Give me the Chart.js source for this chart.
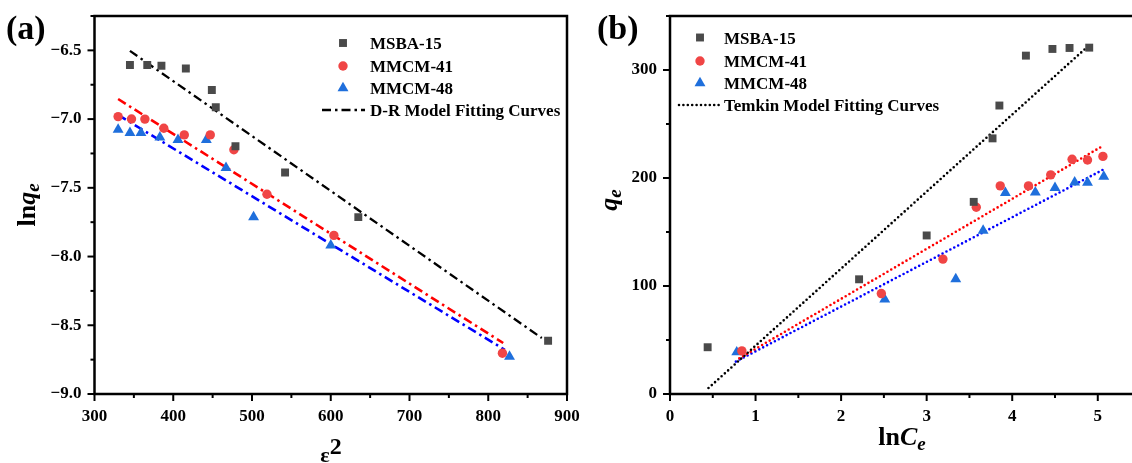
<!DOCTYPE html>
<html>
<head>
<meta charset="utf-8">
<script src="https://cdn.jsdelivr.net/npm/chart.js@4.4.1/dist/chart.umd.min.js"></script>
<style>
  body { margin: 0; background: #fff; }
  #wrap { position: relative; width: 1132px; height: 463px; overflow: hidden; }
  canvas { position: absolute; top: 0; }
</style>
</head>
<body>
<div id="wrap">
  <canvas id="chartA" width="590" height="463" style="left:0"></canvas>
  <canvas id="chartB" width="542" height="463" style="left:590px"></canvas>
</div>
<script>
// ---- (a) D-R model: epsilon^2 vs ln qe ----
const seriesNames = ["MSBA-15", "MMCM-41", "MMCM-48"];

const drX_MSBA = [345, 367, 385, 416, 449, 454, 479, 542, 635, 876];
const drY_MSBA = [-6.607, -6.607, -6.612, -6.632, -6.788, -6.914, -7.197, -7.388, -7.713, -8.612];
const drX_M41 = [330, 347, 364, 388, 414, 447, 477, 519, 604, 818];
const drY_M41 = [-6.982, -6.999, -7.0, -7.067, -7.115, -7.115, -7.223, -7.547, -7.846, -8.703];
const drX_M48 = [330, 345, 359, 383, 406, 442, 467, 502, 600, 827];
const drY_M48 = [-7.076, -7.1, -7.1, -7.132, -7.151, -7.151, -7.354, -7.713, -7.918, -8.728];

// fitted lines (end points)
const drFitX_MSBA = [345, 868];
const drFitY_MSBA = [-6.504, -8.593];
const drFitX_M41 = [330, 819];
const drFitY_M41 = [-6.854, -8.629];
const drFitX_M48 = [330, 821];
const drFitY_M48 = [-6.97, -8.678];

// ---- (b) Temkin model: ln Ce vs qe ----
const tkX_MSBA = [0.44, 2.21, 3.0, 3.55, 3.77, 3.85, 4.16, 4.47, 4.67, 4.90];
const tkY_MSBA = [43.3, 106.2, 146.8, 177.9, 236.7, 267.1, 313.3, 319.5, 320.4, 320.7];
const tkX_M41 = [0.84, 2.47, 3.19, 3.58, 3.86, 4.19, 4.45, 4.70, 4.88, 5.06];
const tkY_M41 = [39.9, 93, 124.9, 172.9, 192.7, 192.7, 202.9, 217.3, 216.7, 220];
const tkX_M48 = [0.78, 2.51, 3.34, 3.66, 3.92, 4.27, 4.50, 4.73, 4.88, 5.07];
const tkY_M48 = [38.7, 87.7, 106.5, 151.4, 186.2, 186.8, 190.9, 196, 195.8, 201.3];

const tkFitX_MSBA = [0.45, 4.92];
const tkFitY_MSBA = [5.5, 324.4];
const tkFitX_M41 = [0.81, 5.03];
const tkFitY_M41 = [33, 228.4];
const tkFitX_M48 = [0.77, 5.08];
const tkFitY_M48 = [30, 208.4];

const FONT = '"Liberation Serif", "Times New Roman", serif';
const markerColors = ['#4a4a4a', '#f04545', '#1f6fdc'];
const markerStyles = ['rect', 'circle', 'triangle'];
const markerRadius = [5.6, 4.7, 6.3];

function pts(xs, ys) {
  return xs.map((x, i) => ({ x: x, y: ys[i] }));
}

function markerSet(i, xs, ys) {
  return {
    label: seriesNames[i],
    data: pts(xs, ys),
    showLine: false,
    pointStyle: markerStyles[i],
    pointRadius: markerRadius[i],
    pointBackgroundColor: markerColors[i],
    pointBorderWidth: 0,
    borderWidth: 0
  };
}

function fitSet(xs, ys, color, dash, width, cap) {
  return {
    data: pts(xs, ys),
    showLine: true,
    pointRadius: 0,
    borderColor: color,
    borderWidth: width,
    borderDash: dash,
    borderCapStyle: cap || 'butt',
    fill: false
  };
}

function drawMarker(ctx, style, r, x, y, color) {
  ctx.fillStyle = color;
  ctx.beginPath();
  if (style === 'rect') {
    const s = r * Math.SQRT1_2;
    ctx.rect(x - s, y - s, 2 * s, 2 * s);
  } else if (style === 'circle') {
    ctx.arc(x, y, r, 0, Math.PI * 2);
  } else {
    let a = 0;
    ctx.moveTo(x + Math.sin(a) * r, y - Math.cos(a) * r);
    a += Math.PI * 2 / 3;
    ctx.lineTo(x + Math.sin(a) * r, y - Math.cos(a) * r);
    a += Math.PI * 2 / 3;
    ctx.lineTo(x + Math.sin(a) * r, y - Math.cos(a) * r);
    ctx.closePath();
  }
  ctx.fill();
}

function drawRuns(ctx, runs, cx, baseY) {
  let w = 0;
  runs.forEach(r => { ctx.font = r.font; r.w = ctx.measureText(r.text).width; w += r.w; });
  let x = cx - w / 2;
  runs.forEach(r => {
    ctx.font = r.font;
    ctx.fillText(r.text, x, baseY + (r.dy || 0));
    x += r.w;
  });
}

// ticks, frame, legend, titles
const deco = {
  id: 'deco',
  afterDraw(chart, args, o) {
    const ctx = chart.ctx;
    const a = chart.chartArea;
    const sx = chart.scales.x, sy = chart.scales.y;
    ctx.save();
    ctx.strokeStyle = '#000';
    ctx.fillStyle = '#000';

    // tick marks, outward
    ctx.lineWidth = 2;
    sx.ticks.forEach(t => {
      const p = sx.getPixelForValue(t.value);
      const len = t.label !== '' ? 7 : 4;
      ctx.beginPath(); ctx.moveTo(p, a.bottom); ctx.lineTo(p, a.bottom + len); ctx.stroke();
    });
    sy.ticks.forEach(t => {
      const p = sy.getPixelForValue(t.value);
      const len = t.label !== '' ? 7 : 4;
      ctx.beginPath(); ctx.moveTo(a.left, p); ctx.lineTo(a.left - len, p); ctx.stroke();
    });

    // frame
    ctx.lineWidth = 2.5;
    ctx.beginPath();
    if (o.fullBox) {
      ctx.rect(a.left, a.top, a.right - a.left, a.bottom - a.top);
    } else {
      ctx.moveTo(chart.width + 2, a.top);
      ctx.lineTo(a.left, a.top);
      ctx.lineTo(a.left, a.bottom);
      ctx.lineTo(chart.width + 2, a.bottom);
    }
    ctx.stroke();

    // legend
    const L = o.legend;
    ctx.font = 'bold 17px ' + FONT;
    ctx.textBaseline = 'alphabetic';
    ctx.textAlign = 'left';
    for (let i = 0; i < 3; i++) {
      const ds = chart.data.datasets[i];
      drawMarker(ctx, ds.pointStyle, ds.pointRadius, L.markerX, L.rows[i], ds.pointBackgroundColor);
      ctx.fillStyle = '#000';
      ctx.fillText(ds.label, L.textX, L.rows[i] + 6);
    }
    const fit = chart.data.datasets[3];
    ctx.save();
    ctx.strokeStyle = fit.borderColor;
    ctx.lineWidth = fit.borderWidth;
    ctx.setLineDash(fit.borderDash);
    ctx.lineCap = fit.borderCapStyle;
    ctx.beginPath();
    ctx.moveTo(L.lineX0, L.rows[3]);
    ctx.lineTo(L.lineX1, L.rows[3]);
    ctx.stroke();
    ctx.restore();
    ctx.fillStyle = '#000';
    ctx.font = 'bold 17px ' + FONT;
    ctx.fillText(o.fitLabel, L.textX, L.rows[3] + 6);

    // panel letter
    ctx.font = 'bold 34px ' + FONT;
    ctx.fillText(o.panel, o.panelX, 39);

    // axis titles
    ctx.textAlign = 'left';
    drawRuns(ctx, o.xTitle, o.xTitlePos[0], o.xTitlePos[1]);
    ctx.save();
    ctx.translate(o.yTitlePos[0], o.yTitlePos[1]);
    ctx.rotate(-Math.PI / 2);
    drawRuns(ctx, o.yTitle, 0, 0);
    ctx.restore();

    ctx.restore();
  }
};

const tickFont = { family: FONT, size: 17, weight: 'bold' };

// pin the plot area: fixed axis sizes, no extra label overhang padding
function fixWidth(w) {
  return function (s) { s.width = w; s.paddingTop = 0; s.paddingBottom = 0; };
}
function fixHeight(h) {
  return function (s) { s.height = h; s.paddingLeft = 0; s.paddingRight = 0; };
}

new Chart(document.getElementById('chartA'), {
  type: 'scatter',
  data: {
    datasets: [
      markerSet(0, drX_MSBA, drY_MSBA),
      markerSet(1, drX_M41, drY_M41),
      markerSet(2, drX_M48, drY_M48),
      fitSet(drFitX_MSBA, drFitY_MSBA, '#000000', [9, 4, 2.5, 4], 2.3),
      fitSet(drFitX_M41, drFitY_M41, '#ff0000', [9, 4, 2.5, 4], 2.6),
      fitSet(drFitX_M48, drFitY_M48, '#0000ff', [9, 4, 2.5, 4], 2.6)
    ]
  },
  options: {
    responsive: false,
    animation: false,
    devicePixelRatio: 1,
    events: [],
    layout: { autoPadding: false, padding: { left: 0, right: 23, top: 16, bottom: 0 } },
    plugins: {
      legend: { display: false },
      tooltip: { enabled: false },
      deco: {
        fullBox: true,
        panel: '(a)',
        panelX: 6,
        fitLabel: 'D-R Model Fitting Curves',
        legend: { markerX: 343, textX: 370, rows: [43, 66, 88, 110], lineX0: 322, lineX1: 365 },
        xTitle: [
          { text: 'ε', font: 'bold 22px ' + FONT, dy: 0 },
          { text: '2', font: 'bold 24px ' + FONT, dy: -8 }
        ],
        xTitlePos: [331, 462],
        yTitle: [
          { text: 'ln', font: 'bold 26px ' + FONT },
          { text: 'q', font: 'italic bold 26px ' + FONT },
          { text: 'e', font: 'italic bold 19px ' + FONT, dy: 4 }
        ],
        yTitlePos: [35, 205]
      }
    },
    scales: {
      x: {
        type: 'linear', min: 300, max: 900,
        afterFit: fixHeight(69),
        border: { display: false },
        grid: { display: false, drawTicks: false },
        ticks: {
          stepSize: 50, includeBounds: false, autoSkip: false, maxRotation: 0,
          padding: 12, color: '#000', font: tickFont,
          callback: v => (v % 100 === 0 ? String(v) : '')
        }
      },
      y: {
        type: 'linear', min: -9, max: -6.25,
        afterFit: fixWidth(94.5),
        border: { display: false },
        grid: { display: false, drawTicks: false },
        ticks: {
          stepSize: 0.25, includeBounds: false, autoSkip: false,
          padding: 13, color: '#000', font: tickFont,
          callback: v => (Math.abs(v * 2 - Math.round(v * 2)) < 1e-6 ? v.toFixed(1).replace('-', '\u2212') : '')
        }
      }
    }
  },
  plugins: [deco]
});

new Chart(document.getElementById('chartB'), {
  type: 'scatter',
  data: {
    datasets: [
      markerSet(0, tkX_MSBA, tkY_MSBA),
      markerSet(1, tkX_M41, tkY_M41),
      markerSet(2, tkX_M48, tkY_M48),
      fitSet(tkFitX_MSBA, tkFitY_MSBA, '#000000', [0, 4.4], 2.6, 'round'),
      fitSet(tkFitX_M41, tkFitY_M41, '#ff0000', [0, 4.4], 2.6, 'round'),
      fitSet(tkFitX_M48, tkFitY_M48, '#0000ff', [0, 4.4], 2.6, 'round')
    ]
  },
  options: {
    responsive: false,
    animation: false,
    devicePixelRatio: 1,
    events: [],
    layout: { autoPadding: false, padding: { left: 0, right: 0, top: 16, bottom: 0 } },
    plugins: {
      legend: { display: false },
      tooltip: { enabled: false },
      deco: {
        fullBox: false,
        panel: '(b)',
        panelX: 7,
        fitLabel: 'Temkin Model Fitting Curves',
        legend: { markerX: 110, textX: 134, rows: [37.5, 61, 83, 105], lineX0: 89, lineX1: 130 },
        xTitle: [
          { text: 'ln', font: 'bold 26px ' + FONT },
          { text: 'C', font: 'italic bold 26px ' + FONT },
          { text: 'e', font: 'italic bold 19px ' + FONT, dy: 5 }
        ],
        xTitlePos: [312, 445],
        yTitle: [
          { text: 'q', font: 'italic bold 26px ' + FONT },
          { text: 'e', font: 'italic bold 19px ' + FONT, dy: 4 }
        ],
        yTitlePos: [27, 200]
      }
    },
    scales: {
      x: {
        type: 'linear', min: 0, max: 5.4,
        afterFit: fixHeight(69),
        border: { display: false },
        grid: { display: false, drawTicks: false },
        ticks: {
          stepSize: 0.5, includeBounds: false, autoSkip: false, maxRotation: 0,
          padding: 12, color: '#000', font: tickFont,
          callback: v => (Math.abs(v - Math.round(v)) < 1e-6 ? String(Math.round(v)) : '')
        }
      },
      y: {
        type: 'linear', min: 0, max: 350,
        afterFit: fixWidth(80),
        border: { display: false },
        grid: { display: false, drawTicks: false },
        ticks: {
          stepSize: 50, includeBounds: false, autoSkip: false,
          padding: 13, color: '#000', font: tickFont,
          callback: v => (v % 100 === 0 ? String(v) : '')
        }
      }
    }
  },
  plugins: [deco]
});
</script>
</body>
</html>
